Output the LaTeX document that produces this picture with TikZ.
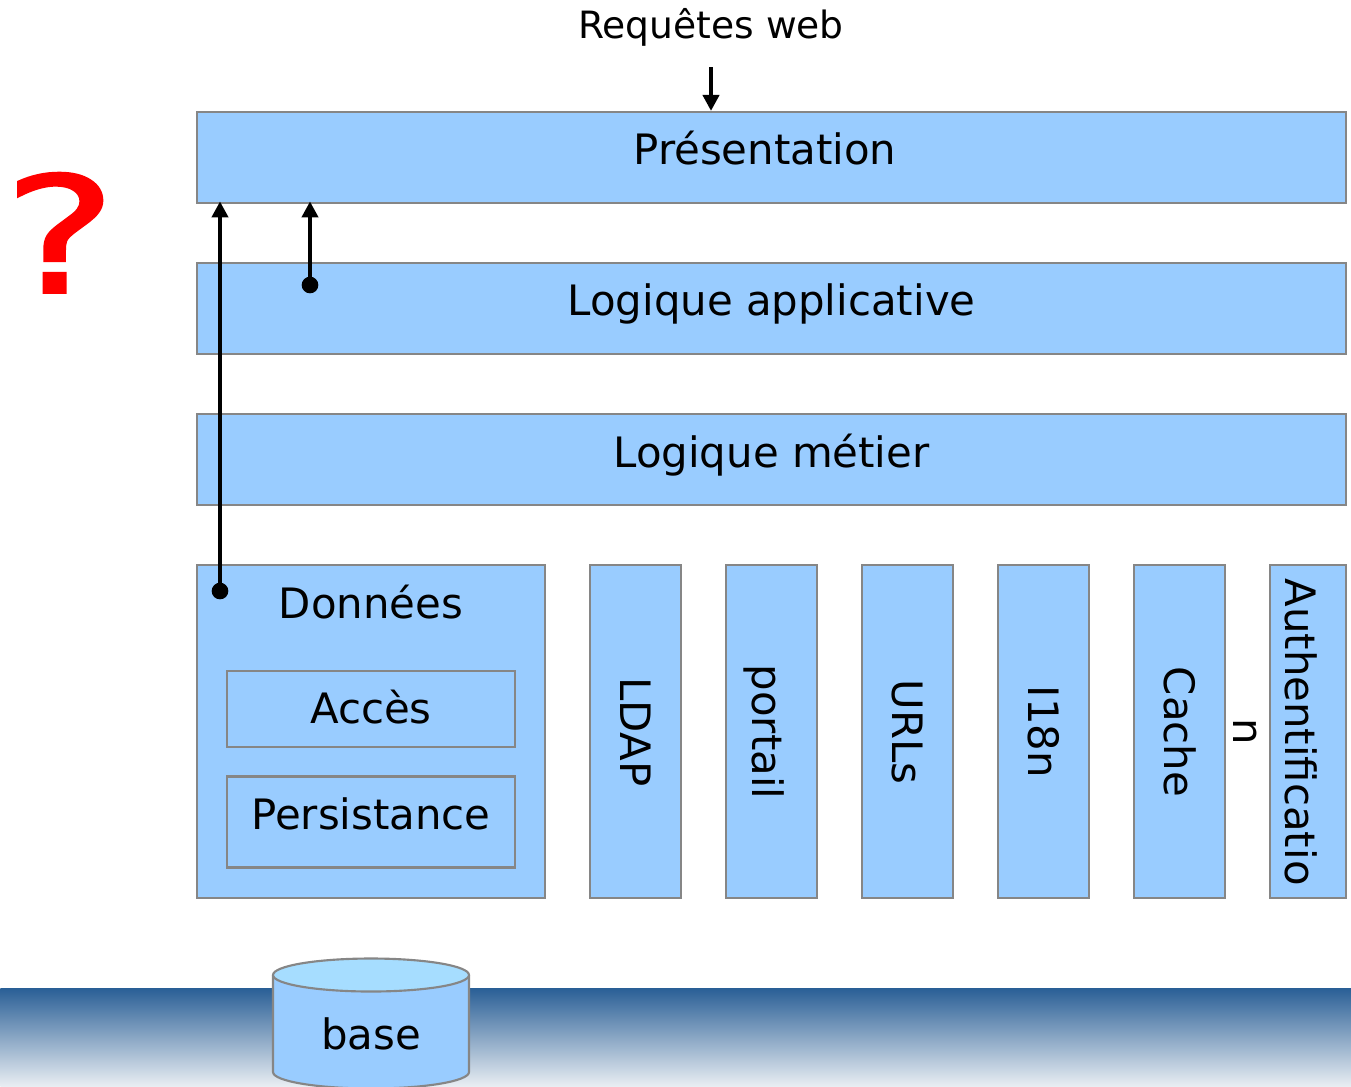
\documentclass[tikz,border=0pt]{standalone}
\usepackage{fontspec}
\setmainfont{DejaVu Sans}
\newfontfamily\markfont[FakeBold=1.2]{DejaVu Sans}
\usepackage{xcolor}
\usetikzlibrary{arrows.meta}
\definecolor{boxblue}{HTML}{99CCFF}
\definecolor{topblue}{HTML}{A6DDFF}
\definecolor{boxgray}{HTML}{868686}
\definecolor{seablue}{HTML}{2A5F96}
\definecolor{seapale}{HTML}{E9EEF3}
\tikzset{
    layer/.style={draw=boxgray, line width=1.6pt, fill=boxblue, inner sep=0pt},
    lbl/.style={anchor=base, inner sep=0pt, font=\fontsize{31.4}{41}\selectfont},
    vlbl/.style={lbl, rotate=-90},
    dot/.style={circle, fill=black, inner sep=0pt, outer sep=0pt, minimum size=12.5pt},
    flow/.style={line width=3.2pt, -{Triangle[width=12pt,length=12pt]}}
}
\begin{document}
\begin{tikzpicture}[x=0.75pt,y=-0.75pt]
    \useasboundingbox (0,0) rectangle (1351,1086);

    % Sea
    \node[minimum width=1013.25pt, minimum height=73.5pt, inner sep=0pt, anchor=north west,
        top color=seablue, bottom color=seapale] (sea) at (0,988) {};

    % Database
    \draw[draw=boxgray, line width=1.6pt, fill=boxblue] (273,975) -- (273,1072)
        arc[start angle=180, end angle=0, x radius=98, y radius=16.5] -- (469,975);
    \draw[draw=boxgray, line width=1.6pt, fill=topblue] (371,975) ellipse [x radius=98, y radius=16.5];
    \node[lbl] (baselbl) at (371,1049) {base};

    % Horizontal layers
    \node[layer, minimum width=861.75pt, minimum height=68.25pt] (presentation) at (771.5,157.5) {};
    \node[layer, minimum width=861.75pt, minimum height=68.25pt] (applicative) at (771.5,308.5) {};
    \node[layer, minimum width=861.75pt, minimum height=68.25pt] (metier) at (771.5,459.5) {};
    \node[lbl] (presentationlbl) at (765,164) {Présentation};
    \node[lbl] (applicativelbl) at (771.5,315) {Logique applicative};
    \node[lbl] (metierlbl) at (771.5,467) {Logique métier};

    % Data layer
    \node[layer, minimum width=261pt, minimum height=249.75pt] (donnees) at (371,731.5) {};
    \node[lbl] (donneeslbl) at (371,618) {Données};
    \node[layer, minimum width=216pt, minimum height=57pt] (acces) at (371,709) {};
    \node[lbl] (acceslbl) at (371,723) {Accès};
    \node[layer, minimum width=216pt, minimum height=68.25pt] (persistance) at (371,822) {};
    \node[lbl] (persistancelbl) at (371,829) {Persistance};

    % Vertical services
    \foreach \name/\xpos/\xbase/\txt in {ldap/635.5/620/LDAP, portail/771.5/752/portail,
        urls/907.5/892/URLs, itn/1043.5/1028/I18n, cache/1179.5/1164/Cache} {
        \node[layer, minimum width=68.25pt, minimum height=249.75pt] (\name) at (\xpos,731.5) {};
        \node[vlbl] (\name lbl) at (\xbase,732) {\txt};
    }
    \node[layer, minimum width=57pt, minimum height=249.75pt] (auth) at (1308,731.5) {};
    \node[vlbl] (authlbl) at (1285,732) {Authentificatio};
    \node[vlbl] (authlbltwo) at (1233,732) {n};

    % Request flow
    \node[anchor=base, inner sep=0pt, font=\fontsize{28.2}{34}\selectfont] (requetes) at (711,38) {Requêtes web};
    \coordinate (webstart) at (711,67);
    \draw[flow] (webstart) -- (webstart |- presentation.north);

    % Shortcuts
    \node[dot] (dotapp) at (310,285) {};
    \node[dot] (dotdata) at (220,591) {};
    \draw[flow, shorten >=-2pt] (dotapp) -- (dotapp |- presentation.south);
    \draw[flow, shorten >=-2pt] (dotdata) -- (dotdata |- presentation.south);

    % Question mark
    \node[anchor=base, inner sep=0pt, text=red, xscale=1.26, yscale=0.95,
        font=\markfont\fontsize{128}{128}\selectfont] (question) at (60,293) {?};
\end{tikzpicture}
\end{document}
